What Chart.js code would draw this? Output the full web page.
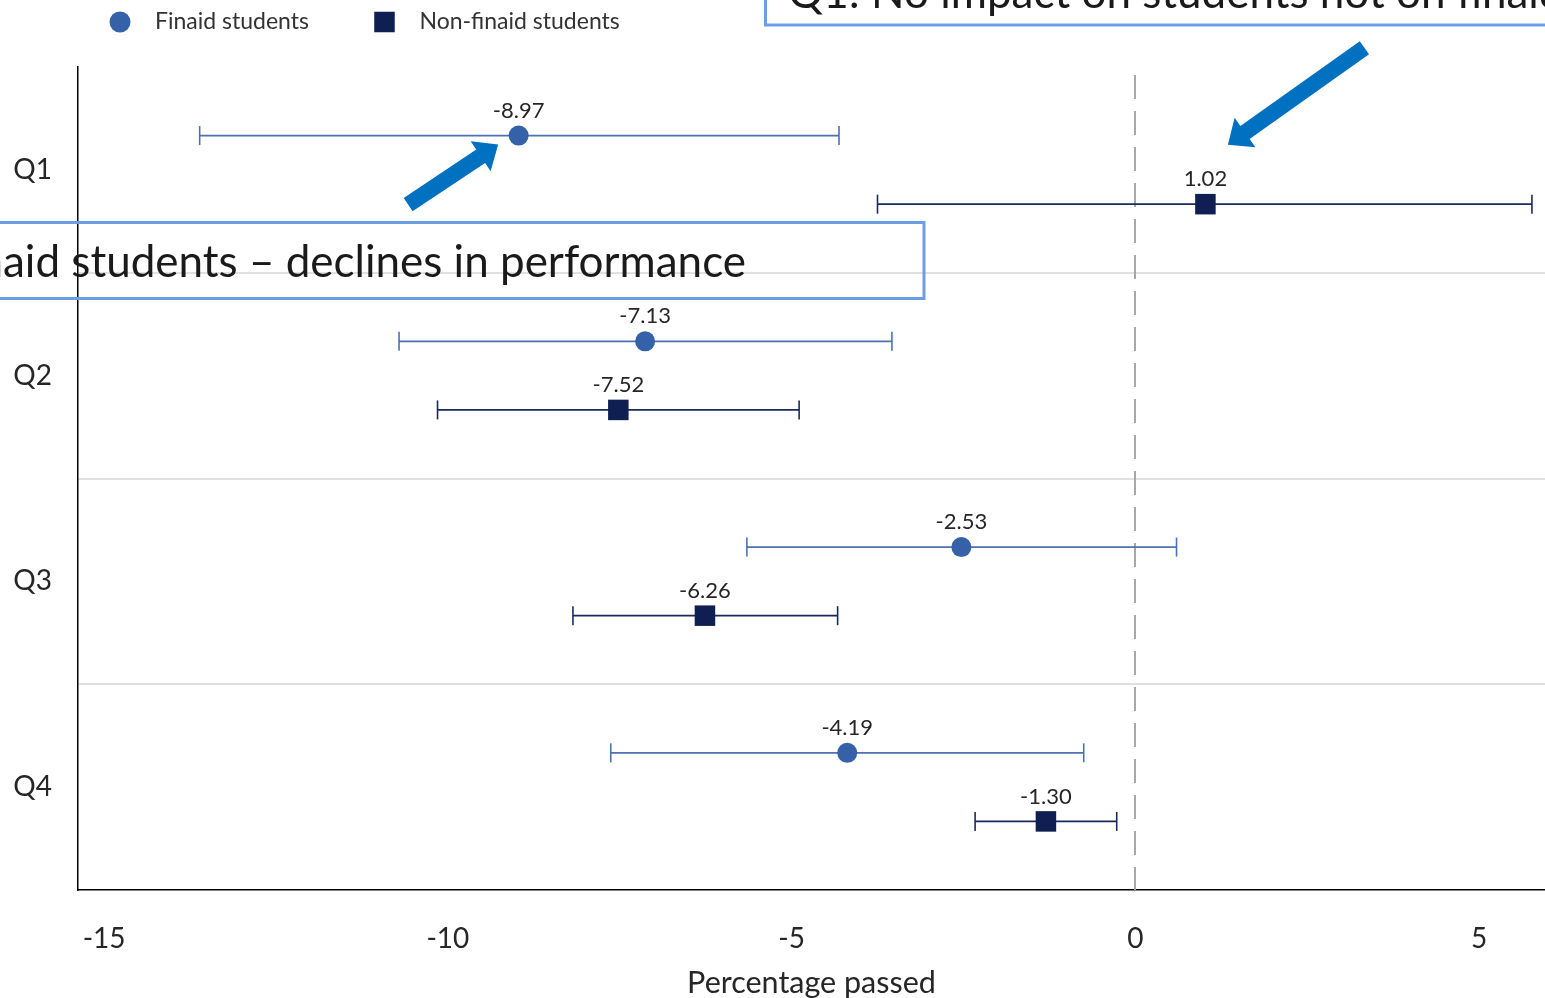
<!DOCTYPE html>
<html>
<head>
<meta charset="utf-8">
<title>Percentage passed by quartile</title>
<script src="https://cdn.jsdelivr.net/npm/chart.js@4.4.1/dist/chart.umd.min.js"></script>
<style>
  html, body { margin: 0; padding: 0; background: #ffffff; overflow: hidden; }
  #wrap { width: 1545px; height: 998px; position: relative; }
  #wrap canvas { display: block; }
</style>
</head>
<body>
<div id="wrap"><canvas id="chart"></canvas></div>
<script>
// ---- data -------------------------------------------------------------
const categories = ['Q1', 'Q2', 'Q3', 'Q4'];
const seriesNames = ['Finaid students', 'Non-finaid students'];

const finaidEstimate = [-8.97, -7.13, -2.53, -4.19];
const finaidLower    = [-13.61, -10.71, -5.65, -7.63];
const finaidUpper    = [-4.31, -3.54, 0.60, -0.75];

const nonFinaidEstimate = [1.02, -7.52, -6.26, -1.30];
const nonFinaidLower    = [-3.75, -10.15, -8.18, -2.33];
const nonFinaidUpper    = [5.77, -4.89, -4.33, -0.27];

const xTickValues = [-15, -10, -5, 0, 5];
const xRange = { min: -15.38, max: 5.96 };

const callouts = [
  'Q1: Finaid students \u2013 declines in performance',
  'Q1: No impact on students not on finaid'
];

// ---- styling ----------------------------------------------------------
const FONT = 'Lato, "Open Sans", "Noto Sans", sans-serif';
const COLOR_FINAID = '#3461A8';
const COLOR_NON = '#0F1F52';
const TEXT = '#262626';
const DODGE = 1 / 6;              // vertical offset of the two series inside a band

// ---- derived datasets ---------------------------------------------------
const rowOf = i => i + 1;
const markerPoints = (est, shift) => categories.map((c, i) => ({ x: est[i], y: rowOf(i) + shift }));
const whiskerPoints = (lo, hi, shift) => categories.flatMap((c, i) => [
  { x: lo[i], y: rowOf(i) + shift },
  { x: hi[i], y: rowOf(i) + shift },
  { x: null, y: null }
]);
// band ticks: category centres plus the separators between them
const bandTicks = categories.flatMap((c, i) => i === 0 ? [rowOf(i)] : [rowOf(i) - 0.5, rowOf(i)]);

const whiskerStyle = color => ({
  showLine: true,
  spanGaps: false,
  borderColor: color,
  borderWidth: 1.6,
  pointStyle: 'line',
  pointRotation: 90,
  pointRadius: 9.5,
  pointBorderColor: color,
  pointBorderWidth: 1.6,
  fill: false
});

// ---- plugins ------------------------------------------------------------
const zeroLine = {
  id: 'zeroLine',
  beforeDatasetsDraw(chart) {
    const { ctx, chartArea, scales } = chart;
    const x = Math.round(scales.x.getPixelForValue(0));
    ctx.save();
    ctx.strokeStyle = '#A6A6A6';
    ctx.lineWidth = 2;
    ctx.setLineDash([24, 12]);
    ctx.beginPath();
    ctx.moveTo(x, chartArea.top + 8);
    ctx.lineTo(x, chartArea.bottom);
    ctx.stroke();
    ctx.restore();
  }
};

const valueLabels = {
  id: 'valueLabels',
  afterDatasetsDraw(chart) {
    const { ctx } = chart;
    const sources = [finaidEstimate, nonFinaidEstimate];
    ctx.save();
    ctx.fillStyle = TEXT;
    ctx.font = '22px ' + FONT;
    ctx.textAlign = 'center';
    ctx.textBaseline = 'middle';
    sources.forEach((vals, d) => {
      chart.getDatasetMeta(d).data.forEach((pt, i) => {
        ctx.fillText(vals[i].toFixed(2), pt.x, pt.y - 25);
      });
    });
    ctx.restore();
  }
};

const topLegend = {
  id: 'topLegend',
  afterDraw(chart) {
    const { ctx } = chart;
    const items = [
      { ds: chart.data.datasets[0], x: 120 },
      { ds: chart.data.datasets[1], x: 384.5 }
    ];
    ctx.save();
    ctx.font = '23px ' + FONT;
    ctx.textBaseline = 'middle';
    ctx.textAlign = 'left';
    items.forEach(it => {
      ctx.fillStyle = it.ds.backgroundColor;
      Chart.helpers.drawPoint(ctx, {
        pointStyle: it.ds.pointStyle,
        radius: it.ds.pointStyle === 'rect' ? 14.5 : 10.5,
        rotation: 0,
        borderWidth: 0
      }, it.x, 22);
      ctx.fillStyle = '#333333';
      ctx.fillText(it.ds.label, it.x + 35, 22);
    });
    ctx.restore();
  }
};

function drawBlockArrow(ctx, tail, tip, shaftHalf, headHalf, headLen) {
  const dx = tip.x - tail.x, dy = tip.y - tail.y;
  const L = Math.hypot(dx, dy);
  const ux = dx / L, uy = dy / L, px = -uy, py = ux;
  const bx = tip.x - ux * headLen, by = tip.y - uy * headLen;
  ctx.beginPath();
  ctx.moveTo(tail.x + px * shaftHalf, tail.y + py * shaftHalf);
  ctx.lineTo(bx + px * shaftHalf, by + py * shaftHalf);
  ctx.lineTo(bx + px * headHalf, by + py * headHalf);
  ctx.lineTo(tip.x, tip.y);
  ctx.lineTo(bx - px * headHalf, by - py * headHalf);
  ctx.lineTo(bx - px * shaftHalf, by - py * shaftHalf);
  ctx.lineTo(tail.x - px * shaftHalf, tail.y - py * shaftHalf);
  ctx.closePath();
  ctx.fill();
}

const calloutLayer = {
  id: 'calloutLayer',
  afterDraw(chart) {
    const { ctx } = chart;
    ctx.save();
    // framed captions
    ctx.strokeStyle = '#6D9DE4';
    ctx.lineWidth = 3;
    ctx.strokeRect(-10, 222.5, 934, 76);
    ctx.strokeRect(765.5, -20, 900, 45);
    ctx.fillStyle = '#1A1A1A';
    ctx.font = '44px ' + FONT;
    ctx.textBaseline = 'alphabetic';
    ctx.textAlign = 'right';
    ctx.fillText(callouts[0], 746, 277);
    ctx.textAlign = 'left';
    ctx.fillText(callouts[1], 788, 8);

    // arrows pointing at the two Q1 estimates
    ctx.fillStyle = '#0070C0';
    const f = chart.getDatasetMeta(0).data[0];
    const n = chart.getDatasetMeta(1).data[0];
    const tip1 = { x: f.x - 20.5, y: f.y + 9 };
    drawBlockArrow(ctx, { x: tip1.x - 90, y: tip1.y + 60 }, tip1, 8, 18, 21);
    const tip2 = { x: n.x + 22.5, y: n.y - 59.5 };
    drawBlockArrow(ctx, { x: tip2.x + 136.5, y: tip2.y - 97 }, tip2, 8, 18, 21);
    ctx.restore();
  }
};

// ---- chart --------------------------------------------------------------
new Chart(document.getElementById('chart'), {
  type: 'scatter',
  data: {
    datasets: [
      {
        label: seriesNames[0],
        data: markerPoints(finaidEstimate, -DODGE),
        pointStyle: 'circle',
        pointRadius: 10,
        backgroundColor: COLOR_FINAID,
        borderWidth: 0,
        order: 0
      },
      {
        label: seriesNames[1],
        data: markerPoints(nonFinaidEstimate, DODGE),
        pointStyle: 'rect',
        pointRadius: 14.5,
        backgroundColor: COLOR_NON,
        borderWidth: 0,
        order: 1
      },
      Object.assign({ label: seriesNames[0] + ' interval', data: whiskerPoints(finaidLower, finaidUpper, -DODGE), order: 2 }, whiskerStyle('#4A72B5')),
      Object.assign({ label: seriesNames[1] + ' interval', data: whiskerPoints(nonFinaidLower, nonFinaidUpper, DODGE), order: 3 }, whiskerStyle('#1B2A5C'))
    ]
  },
  options: {
    responsive: true,
    maintainAspectRatio: false,
    animation: false,
    events: [],
    layout: { autoPadding: false, padding: { top: 67, left: 0, right: 0, bottom: 0 } },
    plugins: {
      legend: { display: false },
      tooltip: { enabled: false },
      title: { display: false }
    },
    scales: {
      x: {
        type: 'linear',
        min: xRange.min,
        max: xRange.max,
        afterBuildTicks: s => { s.ticks = xTickValues.map(v => ({ value: v })); },
        afterFit: s => { s.height = 108; s.paddingLeft = 0; s.paddingRight = 0; },
        grid: { display: false, drawTicks: false },
        border: { display: true, color: '#000000', width: 1.5 },
        ticks: {
          padding: 32,
          color: TEXT,
          font: { family: FONT, size: 28 },
          autoSkip: false,
          maxRotation: 0,
          callback: v => String(v)
        },
        title: {
          display: true,
          text: 'Percentage passed',
          color: TEXT,
          font: { family: FONT, size: 30.5 },
          padding: { top: 0, bottom: -3 }
        }
      },
      y: {
        type: 'linear',
        reverse: true,
        min: 0.5,
        max: categories.length + 0.5,
        afterBuildTicks: s => { s.ticks = bandTicks.map(v => ({ value: v })); },
        afterFit: s => { s.width = 78; s.paddingTop = 0; s.paddingBottom = 0; },
        grid: {
          drawTicks: false,
          lineWidth: 2,
          color: c => (c.tick && c.tick.value % 1 !== 0) ? '#E0E0E0' : 'rgba(0,0,0,0)'
        },
        border: { display: true, color: '#000000', width: 1.5 },
        ticks: {
          padding: 26,
          color: TEXT,
          autoSkip: false,
          font: { family: FONT, size: 28 },
          callback: v => Number.isInteger(v) ? categories[v - 1] : ''
        }
      }
    }
  },
  plugins: [zeroLine, valueLabels, topLegend, calloutLayer]
});
</script>
</body>
</html>
